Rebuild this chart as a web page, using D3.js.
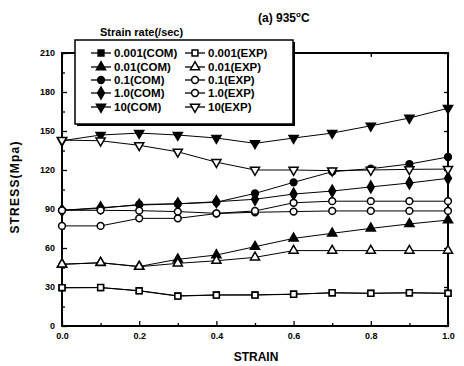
<!DOCTYPE html>
<html lang="en">
<head>
<meta charset="UTF-8">
<title>(a) 935C stress-strain</title>
<script src="https://cdn.jsdelivr.net/npm/d3@7/dist/d3.min.js"></script>
<style>
  body { margin: 0; background: #fff; }
  text { font-family: "Liberation Sans", Arial, sans-serif; font-weight: bold; fill: #000; }
</style>
</head>
<body>
<script>
// data
var strain = [0.0, 0.1, 0.2, 0.3, 0.4, 0.5, 0.6, 0.7, 0.8, 0.9, 1.0];
var rates = ["0.001", "0.01", "0.1", "1.0", "10"];

var com0001 = [29.4, 29.5, 27.2, 23.2, 23.9, 24.0, 24.5, 25.5, 25.2, 25.5, 25.2];
var exp0001 = [29.5, 29.6, 27.0, 23.0, 23.8, 23.8, 24.4, 25.6, 25.1, 25.6, 25.1];
var com001  = [47.5, 48.6, 45.8, 51.3, 54.6, 61.0, 67.4, 71.3, 75.1, 78.5, 81.5];
var exp001  = [47.5, 48.7, 45.6, 48.2, 50.2, 52.8, 58.0, 58.0, 58.0, 58.0, 58.0];
var com01   = [89.0, 90.5, 93.5, 94.0, 95.2, 102.0, 110.5, 118.7, 121.0, 124.6, 130.0];
var exp01   = [77.0, 77.0, 82.8, 82.8, 86.5, 87.5, 88.0, 88.5, 88.5, 88.5, 88.5];
var com1    = [89.0, 91.0, 93.0, 94.0, 95.6, 97.5, 101.5, 103.8, 107.0, 110.0, 113.6];
var exp1    = [89.0, 89.0, 88.7, 88.0, 86.7, 88.5, 94.8, 96.0, 96.0, 96.0, 96.0];
var com10   = [142.5, 146.9, 148.4, 146.9, 144.6, 140.5, 144.6, 148.4, 154.0, 160.0, 167.5];
var exp10   = [143.0, 142.5, 139.0, 134.0, 126.0, 120.0, 120.0, 119.5, 120.0, 120.5, 120.7];

var yTicks = [0, 30, 60, 90, 120, 150, 180, 210];
var xTicks = [0.0, 0.2, 0.4, 0.6, 0.8, 1.0];

var comSeries = [com0001, com001, com01, com1, com10];
var expSeries = [exp0001, exp001, exp01, exp1, exp10];

var W = 464, H = 366;
var svg = d3.select("body").append("svg").attr("width", W).attr("height", H);

var x = d3.scaleLinear().domain([0, 1]).range([62, 448]);
var y = d3.scaleLinear().domain([0, 210]).range([326, 53]);

// marker shapes per rate
var shapes = [d3.symbolSquare, d3.symbolTriangle, d3.symbolCircle, d3.symbolDiamond, d3.symbolTriangle];
var sizes = [34, 36, 36, 40, 36];
function marker(g, i, filled) {
    var p = g.append("path")
        .attr("d", d3.symbol().type(shapes[i]).size(sizes[i])())
        .attr("fill", filled ? "#000" : "#fff")
        .attr("stroke", "#000")
        .attr("stroke-width", 1.5);
    // 1.0(EXP) looks like a circle in the plot
    if (!filled && i == 3) p.attr("d", d3.symbol().type(d3.symbolCircle).size(36)());
    if (i == 4) p.attr("transform", "rotate(180)");
    return p;
}

// axes
var yAxis = d3.axisLeft(y).tickValues(yTicks).tickSize(-5).tickPadding(7).tickFormat(d3.format("d"));
var xAxis = d3.axisBottom(x).tickValues(xTicks).tickSize(-5).tickPadding(7).tickFormat(d3.format(".1f"));

svg.append("g").attr("transform", "translate(62,0)").call(yAxis);
svg.append("g").attr("transform", "translate(0,326)").call(xAxis);
// minor ticks
svg.append("g").attr("transform", "translate(62,0)")
    .call(d3.axisLeft(y).tickValues(d3.range(15, 210, 30)).tickSize(-3).tickFormat(""));
svg.append("g").attr("transform", "translate(0,326)")
    .call(d3.axisBottom(x).tickValues([0.1, 0.3, 0.5, 0.7, 0.9]).tickSize(-3).tickFormat(""));
// mirrored ticks
svg.append("g").attr("transform", "translate(448,0)")
    .call(d3.axisRight(y).tickValues(yTicks).tickSize(-4).tickFormat(""));
svg.append("g").attr("transform", "translate(0,53)")
    .call(d3.axisTop(x).tickValues(xTicks).tickSize(-4).tickFormat(""));

svg.selectAll(".domain").remove();
svg.selectAll(".tick line").attr("stroke", "#000").attr("stroke-width", 1.3);
svg.selectAll(".tick text").attr("font-size", "9px").attr("font-family", "Liberation Sans, Arial, sans-serif").attr("font-weight", "bold");

// frame
svg.append("rect").attr("x", 62).attr("y", 53).attr("width", 386).attr("height", 273)
    .attr("fill", "none").attr("stroke", "#000").attr("stroke-width", 2);

// lines and markers
var line = d3.line().x(function (d, i) { return x(strain[i]); }).y(function (d) { return y(d); });

function drawSeries(vals) {
    svg.append("path").datum(vals).attr("d", line)
        .attr("fill", "none").attr("stroke", "#000").attr("stroke-width", 1);
}
comSeries.forEach(function (s) { drawSeries(s); });
expSeries.forEach(function (s) { drawSeries(s); });

comSeries.forEach(function (s, i) {
    s.forEach(function (v, j) {
        var g = svg.append("g").attr("transform", "translate(" + x(strain[j]) + "," + y(v) + ")");
        marker(g, i, true);
    });
});
expSeries.forEach(function (s, i) {
    s.forEach(function (v, j) {
        var g = svg.append("g").attr("transform", "translate(" + x(strain[j]) + "," + y(v) + ")");
        marker(g, i, false);
    });
});

// axis titles
svg.append("text").attr("x", 256).attr("y", 361).attr("text-anchor", "middle")
    .attr("font-size", "12px").text("STRAIN");
svg.append("text").attr("transform", "translate(19,187) rotate(-90)").attr("text-anchor", "middle")
    .attr("font-size", "12px").attr("letter-spacing", "1.2px").text("STRESS(Mpa)");

// title
var t = svg.append("text").attr("x", 258).attr("y", 22).attr("font-size", "12px");
t.append("tspan").text("(a) 935");
t.append("tspan").attr("font-size", "8px").attr("dy", -5).text("o");
t.append("tspan").attr("dy", 5).text("C");

// legend
svg.append("rect").attr("x", 77).attr("y", 42).attr("width", 218).attr("height", 84).attr("fill", "#000");
svg.append("rect").attr("x", 75).attr("y", 40).attr("width", 218).attr("height", 84)
    .attr("fill", "#fff").attr("stroke", "#000").attr("stroke-width", 1.5);
svg.append("text").attr("x", 100).attr("y", 36).attr("font-size", "11px").text("Strain rate(/sec)");

var rowY = [53, 67, 80, 93, 107];
rates.forEach(function (r, i) {
    [[91, true, "(COM)"], [185, false, "(EXP)"]].forEach(function (c) {
        var cx = c[0], ly = rowY[i];
        svg.append("line").attr("x1", cx).attr("x2", cx + 20).attr("y1", ly).attr("y2", ly)
            .attr("stroke", "#000").attr("stroke-width", 1.3);
        var g = svg.append("g").attr("transform", "translate(" + (cx + 10) + "," + ly + ")");
        marker(g, i, c[1]);
        svg.append("text").attr("x", cx + 23).attr("y", ly + 4).attr("font-size", "11.5px").text(r + c[2]);
    });
});
</script>
</body>
</html>
